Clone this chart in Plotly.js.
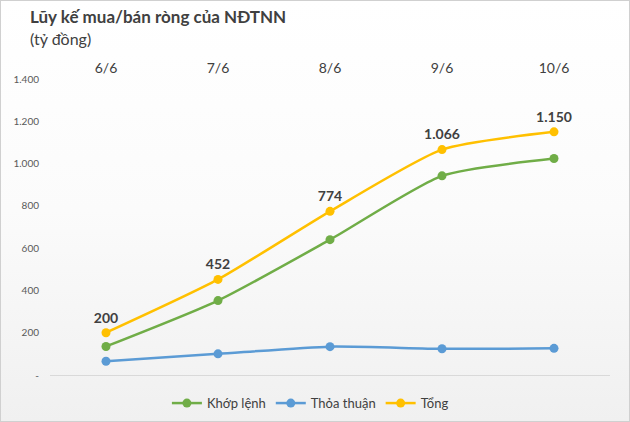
<!DOCTYPE html>
<html><head><meta charset="utf-8">
<script src="https://cdn.plot.ly/plotly-3.0.1.min.js"></script>
<style>
html,body{margin:0;padding:0;}
#wrap{width:628px;height:420px;border:1px solid #d0d0d0;background:linear-gradient(to bottom,#ffffff 0%,#fbfbfb 50%,#f0f0f0 100%);}
#chart{width:628px;height:420px;}
</style></head>
<body><div id="wrap"><div id="chart"></div></div>
<script>
const categories = ['6/6','7/6','8/6','9/6','10/6'];
const khopLenh = [135, 352, 640, 942, 1024];
const thoaThuan = [65, 100, 134, 124, 126];
const tong = [200, 452, 774, 1066, 1150];
const tongLabels = ['200','452','774','1.066','1.150'];
const yTickVals = [0,200,400,600,800,1000,1200,1400];
const yTickText = ['-','200','400','600','800','1.000','1.200','1.400'];

const font = 'Lato, "Open Sans", sans-serif';
function tr(name, y, color, extra){
  return Object.assign({x:categories, y:y, name:name, type:'scatter', mode:'lines+markers',
    line:{color:color, width:2.5, shape:'spline', smoothing:0.6},
    marker:{color:color, size:9}, hoverinfo:'skip', cliponaxis:false}, extra||{});
}
const data = [
  tr('Khớp lệnh', khopLenh, '#70AD47'),
  tr('Thỏa thuận', thoaThuan, '#5B9BD5'),
  tr('Tổng', tong, '#FFC000', {mode:'lines+markers+text', text:tongLabels, textposition:'top center',
    textfont:{family:font, size:14, color:'#404040', weight:'bold'}})
];
const layout = {
  width:628, height:420,
  margin:{l:49, r:19, t:78, b:46, autoexpand:false},
  paper_bgcolor:'rgba(0,0,0,0)', plot_bgcolor:'rgba(0,0,0,0)',
  font:{family:font, color:'#404040'},
  showlegend:true,
  legend:{orientation:'h', x:0.465, xanchor:'center', y:-0.095, yanchor:'middle',
    font:{family:font, size:13, color:'#404040'}, traceorder:'normal'},
  xaxis:{type:'category', side:'top', range:[-0.5,4.5], showgrid:false, zeroline:false, automargin:false,
    showline:false, ticks:'', tickfont:{family:font, size:14, color:'#404040'}, ticklabelstandoff:2},
  yaxis:{range:[0,1400], tickvals:yTickVals, ticktext:yTickText, showgrid:false, automargin:false,
    zeroline:true, zerolinecolor:'#d9d9d9', zerolinewidth:1, showline:false, ticks:'',
    tickfont:{family:font, size:10, color:'#595959'}, ticklabelstandoff:10},
  annotations:[
    {text:'<b>Lũy kế mua/bán ròng của NĐTNN</b>', xref:'paper', yref:'paper', x:-0.04, y:1.212,
     xanchor:'left', yanchor:'middle', showarrow:false, font:{family:font, size:17, color:'#404040'}},
    {text:'(tỷ đồng)', xref:'paper', yref:'paper', x:-0.04, y:1.138,
     xanchor:'left', yanchor:'middle', showarrow:false, font:{family:font, size:16, color:'#404040'}}
  ]
};
Plotly.newPlot('chart', data, layout, {displayModeBar:false, staticPlot:true});
</script></body></html>
